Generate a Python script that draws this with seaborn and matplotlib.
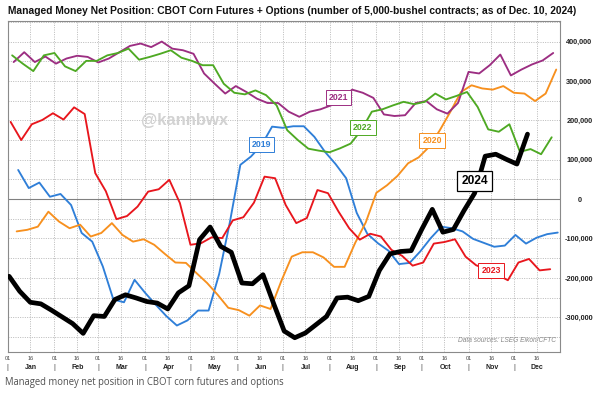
import numpy as np
import pandas as pd
import matplotlib
matplotlib.use("Agg")
import matplotlib.pyplot as plt
import matplotlib.dates as mdates
import matplotlib.transforms as mtransforms
from matplotlib.ticker import FuncFormatter, MultipleLocator
import seaborn as sns

# weekly managed money net position, thousands of contracts
years = [2019, 2020, 2021, 2022, 2023, 2024]
first_day = {2019: 8, 2020: 7, 2021: 5, 2022: 4, 2023: 3, 2024: 2}

net_2019 = [74, 28, 42, 6, 13, -15, -86, -108, -171, -255, -262, -205, -238, -268, -297, -321,
            -308, -283, -283, -190, -60, 87, 108, 137, 184, 181, 185, 185, 158, 120, 89, 53,
            -35, -88, -112, -131, -165, -162, -133, -99, -70, -74, -82, -101, -111, -121, -118,
            -91, -113, -98, -89, -85]
net_2020 = [-82, -78, -70, -32, -57, -74, -65, -95, -86, -61, -91, -108, -102, -116, -139, -161,
            -162, -188, -213, -243, -276, -282, -296, -270, -279, -209, -146, -135, -135, -148,
            -172, -172, -111, -59, 16, 35, 59, 91, 106, 133, 175, 222, 272, 289, 281, 278, 287,
            270, 268, 249, 268, 329]
net_2021 = [348, 373, 348, 362, 344, 357, 364, 361, 347, 357, 373, 389, 395, 386, 400, 382, 378,
            369, 319, 293, 268, 287, 272, 255, 244, 244, 222, 209, 222, 228, 238, 255, 278, 270,
            257, 215, 211, 213, 244, 249, 228, 217, 244, 323, 319, 340, 367, 314, 329, 342, 352, 371]
net_2022 = [365, 344, 325, 365, 371, 337, 325, 351, 351, 365, 371, 382, 354, 361, 369, 378, 359,
            351, 340, 340, 293, 270, 266, 276, 264, 238, 175, 150, 128, 123, 119, 129, 141, 175,
            222, 228, 238, 247, 241, 247, 268, 253, 262, 272, 234, 177, 171, 190, 120, 127, 114, 157]
net_2023 = [196, 150, 190, 201, 218, 202, 233, 216, 66, 20, -51, -43, -19, 19, 25, 49, -10, -116,
            -112, -97, -99, -54, -46, -9, 57, 53, -15, -61, -48, 23, 15, -32, -74, -103, -88, -95,
            -129, -144, -169, -161, -113, -109, -102, -146, -168, -178, -192, -206, -161, -152,
            -181, -178]
net_2024 = [-196, -234, -262, -266, -282, -299, -316, -341, -296, -298, -255, -243, -251, -260,
            -264, -279, -238, -220, -103, -71, -120, -135, -213, -215, -192, -265, -335, -352,
            -340, -319, -298, -251, -249, -258, -247, -181, -139, -133, -131, -77, -26, -84, -77,
            -29, 15, 109, 114, 101, 89, 165]
series = {2019: net_2019, 2020: net_2020, 2021: net_2021, 2022: net_2022, 2023: net_2023, 2024: net_2024}

colors = {2019: '#2f7fd8', 2020: '#f7901e', 2021: '#9c2e82', 2022: '#4ea923',
          2023: '#e8161d', 2024: '#000000'}

# label boxes: (month, day, value in thousands)
label_pos = {2019: (6, 17, 138), 2020: (10, 8, 148), 2021: (8, 7, 258), 2022: (8, 23, 182),
             2023: (11, 16, -182), 2024: (11, 5, 46)}

sns.set_theme(style='white')
plt.rcParams['font.family'] = ['Liberation Sans', 'DejaVu Sans']

fig = plt.figure(figsize=(6.09, 3.97), dpi=100)
ax = fig.add_axes([7.6 / 609, 1 - 352.3 / 397, (560 - 7.6) / 609, (352.3 - 20.7) / 397])

for yr in years:
    vals = np.array(series[yr]) * 1000
    dates = pd.date_range(start=f'2024-01-{first_day[yr]:02d}', periods=len(vals), freq='7D')
    df = pd.DataFrame({'date': dates, 'net': vals})
    lw = 3.4 if yr == 2024 else 1.35
    sns.lineplot(data=df, x='date', y='net', ax=ax, color=colors[yr], linewidth=lw,
                 zorder=4 if yr == 2024 else 3, legend=False)

ax.axhline(0, color='#808080', linewidth=0.8, zorder=2)

ax.set_xlim(pd.Timestamp('2024-01-01'), pd.Timestamp('2024-12-31 12:00'))
ax.set_ylim(-389000, 453000)

ax.yaxis.set_major_locator(MultipleLocator(100000))
ax.yaxis.set_minor_locator(MultipleLocator(50000))
ax.yaxis.set_major_formatter(FuncFormatter(lambda v, p: f'{v:,.0f}'))
ax.yaxis.tick_right()
ax.tick_params(axis='y', which='both', length=0, pad=14, labelsize=5.3)
for lab in ax.get_yticklabels():
    lab.set_fontweight('bold')
    lab.set_horizontalalignment('center')
    lab.set_color('#222222')

ax.xaxis.set_major_locator(mdates.DayLocator(bymonthday=[1, 16]))
ax.xaxis.set_major_formatter(mdates.DateFormatter('%d'))
ax.tick_params(axis='x', length=0, pad=2.5, labelsize=4, labelcolor='#444444')
ax.set_xlabel('')
ax.set_ylabel('')

ax.grid(True, which='both', color='#b0b0b0', linestyle=(0, (1.2, 1.6)), linewidth=0.6)
ax.set_axisbelow(True)
for s in ax.spines.values():
    s.set_color('#8a8a8a')
    s.set_linewidth(0.8)

# month names and separators under the day ticks
trans = mtransforms.blended_transform_factory(ax.transData, ax.transAxes)
for m in range(1, 13):
    mid = pd.Timestamp(2024, m, 16, 12)
    ax.text(mid, -0.046, pd.Timestamp(2024, m, 1).strftime('%b'), transform=trans,
            ha='center', va='center', fontsize=5, fontweight='bold', color='#222222')
    ax.text(pd.Timestamp(2024, m, 1), -0.046, '|', transform=trans, ha='center', va='center',
            fontsize=5, color='#444444')

for yr, (mo, dy, v) in label_pos.items():
    big = yr == 2024
    ax.text(pd.Timestamp(2024, mo, dy), v * 1000, str(yr), ha='center', va='center',
            fontsize=8.6 if big else 6.3, fontweight='bold', color=colors[yr], zorder=6,
            bbox=dict(boxstyle='square,pad=0.35', facecolor='white', edgecolor=colors[yr],
                      linewidth=0.9 if big else 0.7))

ax.text(pd.Timestamp(2024, 4, 27), 200000, '@kannbwx', ha='center', va='center',
        fontsize=12, fontweight='bold', color='#d2d2d2', zorder=1)
ax.text(0.993, 0.025, 'Data sources: LSEG Eikon/CFTC', transform=ax.transAxes, ha='right',
        va='bottom', fontsize=4.8, style='italic', color='#888888')

fig.text(8 / 609, 1 - 11 / 397, 'Managed Money Net Position: CBOT Corn Futures + Options '
         '(number of 5,000-bushel contracts; as of Dec. 10, 2024)', ha='left', va='center',
         fontsize=7.4, fontweight='bold', color='#111111')
fig.text(5 / 609, 1 - 382 / 397, 'Managed money net position in CBOT corn futures and options',
         ha='left', va='center', fontsize=6.85, color='#505050', family=['Open Sans', 'DejaVu Sans'])

fig.savefig('out.png', dpi=100, facecolor='white')
